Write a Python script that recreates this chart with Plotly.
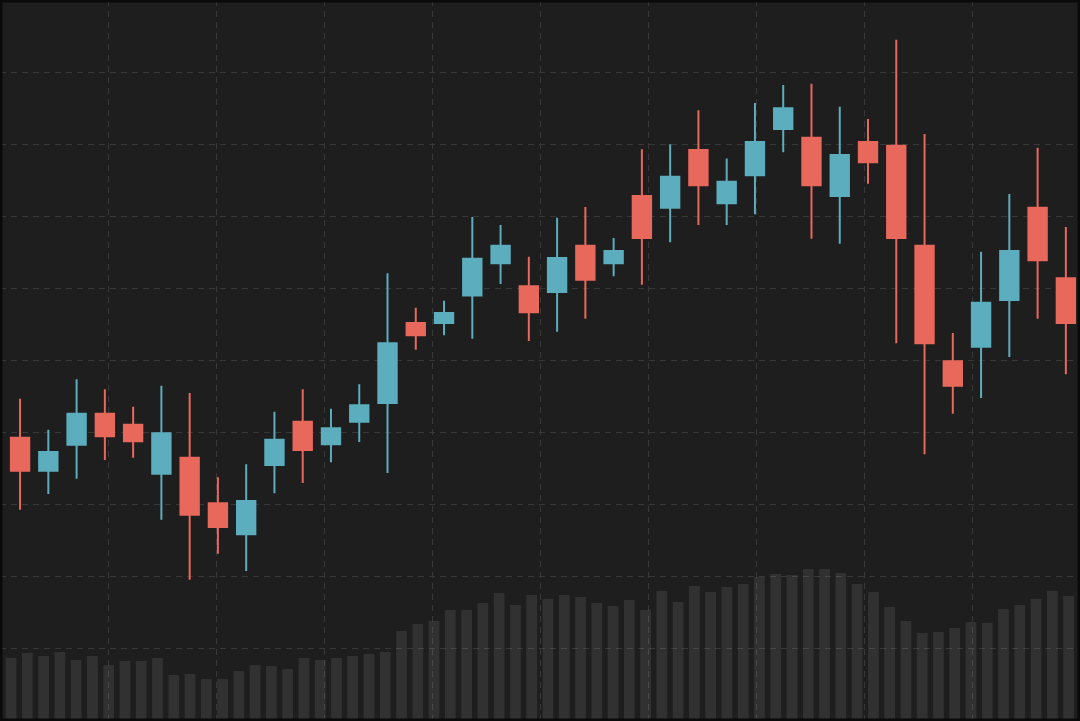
import plotly.graph_objects as go

# candle values (price units, one grid step = 10)
opens = [39.3, 34.7, 38.3, 42.6, 41.1, 34.3, 36.5, 30.2, 25.9, 35.5,
         41.5, 38.4, 41.5, 44.1, 55.2, 55.2, 59.0, 63.5, 60.3, 59.5,
         65.9, 63.5, 72.8, 71.2, 79.2, 71.8, 75.7, 82.1, 80.9, 72.8,
         80.3, 79.8, 65.9, 49.9, 51.9, 58.4, 71.2, 61.4]
highs = [44.7, 40.4, 47.4, 46.0, 43.6, 46.5, 45.5, 33.8, 35.6, 42.9,
         46.0, 43.3, 46.7, 62.1, 57.3, 58.3, 69.9, 68.8, 64.4, 69.8,
         71.3, 67.0, 79.3, 80.0, 84.7, 78.0, 85.7, 88.2, 88.4, 85.2,
         83.5, 94.5, 81.4, 53.8, 65.1, 73.1, 79.5, 68.5]
lows = [29.3, 31.5, 33.6, 36.2, 36.5, 27.9, 19.6, 23.2, 20.8, 31.6,
        33.0, 35.9, 38.7, 34.4, 51.5, 53.5, 53.0, 60.6, 52.7, 54.0,
        55.8, 61.7, 60.5, 66.4, 68.8, 68.8, 70.3, 78.9, 66.9, 66.2,
        74.5, 52.4, 37.0, 42.6, 44.8, 50.5, 55.8, 48.1]
closes = [34.7, 37.3, 42.6, 39.5, 38.8, 39.9, 28.6, 26.9, 30.5, 39.0,
          37.6, 40.6, 43.8, 52.4, 53.5, 56.6, 64.1, 65.9, 56.7, 64.2,
          61.2, 65.2, 67.0, 75.5, 74.3, 74.8, 80.3, 85.0, 74.3, 78.5,
          77.5, 67.0, 52.4, 46.5, 58.0, 65.2, 63.9, 55.2]

# volume series (independent, finer sampling)
volumes = [43.7, 47.2, 45.1, 47.9, 42.3, 45.1, 38.8, 41.6, 41.6, 43.7,
           31.9, 32.6, 29.1, 29.1, 34.7, 38.8, 38.1, 36.1, 43.7, 42.3,
           43.7, 45.1, 46.5, 47.9, 62.4, 67.3, 69.3, 77.0, 77.0, 81.8,
           88.8, 80.4, 87.4, 84.6, 87.4, 86.0, 81.8, 79.8, 83.9, 77.0,
           90.2, 82.5, 93.6, 89.5, 92.9, 95.0, 99.9, 101.9, 101.3, 105.4,
           105.4, 102.6, 95.0, 89.5, 79.1, 69.3, 61.0, 61.7, 64.5, 68.7,
           68.0, 77.7, 80.4, 84.6, 90.2, 86.7]

candle_x = list(range(len(opens)))
volume_x = list(range(len(volumes)))

UP = "#5cadbd"
DOWN = "#e8685c"
BG = "#1e1e1e"
GRID = "#383838"

# x range chosen so the candles sit where the reference puts them;
# the vertical grid splits the width into ten equal columns
X_RANGE = [-0.71, 37.5]
x_grid = [X_RANGE[0] + k * (X_RANGE[1] - X_RANGE[0]) / 10 for k in range(1, 10)]

fig = go.Figure()

fig.add_trace(go.Candlestick(
    x=candle_x, open=opens, high=highs, low=lows, close=closes,
    increasing=dict(line=dict(color=UP, width=2), fillcolor=UP),
    decreasing=dict(line=dict(color=DOWN, width=2), fillcolor=DOWN),
    showlegend=False,
))

fig.add_trace(go.Bar(
    x=volume_x, y=volumes, xaxis="x2", yaxis="y2",
    marker=dict(color="rgba(255,255,255,0.085)", line_width=0),
    showlegend=False, hoverinfo="skip",
))

hidden = dict(showgrid=False, zeroline=False, showticklabels=False,
              showline=False, ticks="")

fig.update_layout(
    width=1080, height=721,
    margin=dict(l=0, r=0, t=0, b=0),
    paper_bgcolor="#000000",
    plot_bgcolor=BG,
    boxgap=0.35, boxgroupgap=0,
    bargap=0.34,
    showlegend=False,
    xaxis=dict(range=X_RANGE, tickmode="array", tickvals=x_grid,
               showgrid=True, gridcolor=GRID, griddash="6px,5px", gridwidth=1,
               zeroline=False, showticklabels=False, ticks="", showline=False,
               rangeslider=dict(visible=False)),
    xaxis2=dict(overlaying="x", range=[-0.68, 65.7], **hidden),
    yaxis=dict(range=[0, 100], dtick=10, showgrid=True, gridcolor=GRID,
               griddash="6px,5px", gridwidth=1, zeroline=False,
               showticklabels=False, ticks="", showline=False),
    yaxis2=dict(overlaying="y", range=[0, 500], **hidden),
    shapes=[
        # very faint radial glow behind the data
        dict(type="circle", xref="paper", yref="paper",
             x0=0.22, x1=0.78, y0=0.03, y1=0.87,
             fillcolor="rgba(255,255,255,0.005)", line_width=0, layer="below"),
        # dark frame
        dict(type="rect", xref="paper", yref="paper", x0=0, x1=1, y0=0, y1=1,
             line=dict(color="#0a0a0a", width=5), fillcolor="rgba(0,0,0,0)"),
    ],
)

fig.write_html("out.html", config={"displayModeBar": False},
               post_script="document.body.style.margin='0';")
